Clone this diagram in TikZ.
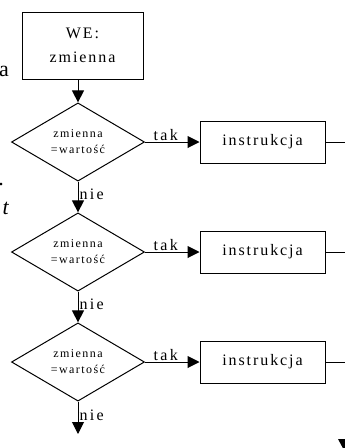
\documentclass[tikz,border=0pt]{standalone}
\usepackage{fontspec}
\setmainfont{Liberation Serif}
\usetikzlibrary{shapes.geometric,arrows.meta}

\tikzset{
	blok/.style={draw, line width=1pt, inner sep=0pt, align=center, font=\fontsize{16}{24}\selectfont\addfontfeature{LetterSpace=12}},
	warunek/.style={draw, diamond, line width=1pt, inner sep=0pt, minimum width=133pt, minimum height=74pt, align=center, font=\fontsize{12}{16}\selectfont\addfontfeature{LetterSpace=12}},
	napis/.style={inner sep=1pt, font=\fontsize{16}{18}\selectfont\addfontfeature{LetterSpace=15}},
	strzalka/.style={line width=1pt, -{Triangle[length=12pt,width=12pt]}}
}

\begin{document}
\begin{tikzpicture}[x=1pt, y=-1pt]

	\useasboundingbox (0,0) rectangle (345,448);
	\clip (0,0) rectangle (345,448);

	\node[anchor=base east, inner sep=0pt, font=\fontsize{22}{22}\selectfont] (obcyA) at (9,76) {a};
	\node[anchor=base east, inner sep=0pt, font=\fontsize{22}{22}\selectfont] (obcyB) at (4,185) {.};
	\node[anchor=base east, inner sep=0pt, font=\fontsize{22}{22}\selectfont\itshape] (obcyC) at (9,214) {t};

	\node[blok, minimum width=121pt, minimum height=67pt] (wejscie) at (82.5,45.5) {WE:\\zmienna};

	\node[warunek] (war1) at (78,142) {zmienna\\=wartość};
	\node[warunek] (war2) at (78,252) {zmienna\\=wartość};
	\node[warunek] (war3) at (78,362) {zmienna\\=wartość};

	\node[blok, minimum width=125pt, minimum height=42pt] (instr1) at (262.5,142) {instrukcja};
	\node[blok, minimum width=125pt, minimum height=42pt] (instr2) at (262.5,252) {instrukcja};
	\node[blok, minimum width=125pt, minimum height=42pt] (instr3) at (262.5,362) {instrukcja};

	\coordinate (wyj1) at (350,142);
	\coordinate (wyj2) at (350,252);
	\coordinate (wyj3) at (350,362);
	\coordinate (dalej) at (78,434);

	\draw[strzalka] (war1.north |- wejscie.south) -- (war1.north);
	\draw[strzalka] (war1.east) -- node[napis, above, pos=0.38] {tak} (instr1.west);
	\draw[strzalka] (war2.east) -- node[napis, above, pos=0.38] {tak} (instr2.west);
	\draw[strzalka] (war3.east) -- node[napis, above, pos=0.38] {tak} (instr3.west);
	\draw[strzalka] (war1.south) -- node[napis, right, pos=0.42] {nie} (war2.north);
	\draw[strzalka] (war2.south) -- node[napis, right, pos=0.42] {nie} (war3.north);
	\draw[strzalka] (war3.south) -- node[napis, right, pos=0.42] {nie} (dalej);
	\draw[line width=1pt] (instr1.east) -- (wyj1);
	\draw[line width=1pt] (instr2.east) -- (wyj2);
	\draw[line width=1pt] (instr3.east) -- (wyj3);

	\fill (338,439) -- (352,439) -- (345,452) -- cycle;
\end{tikzpicture}
\end{document}
